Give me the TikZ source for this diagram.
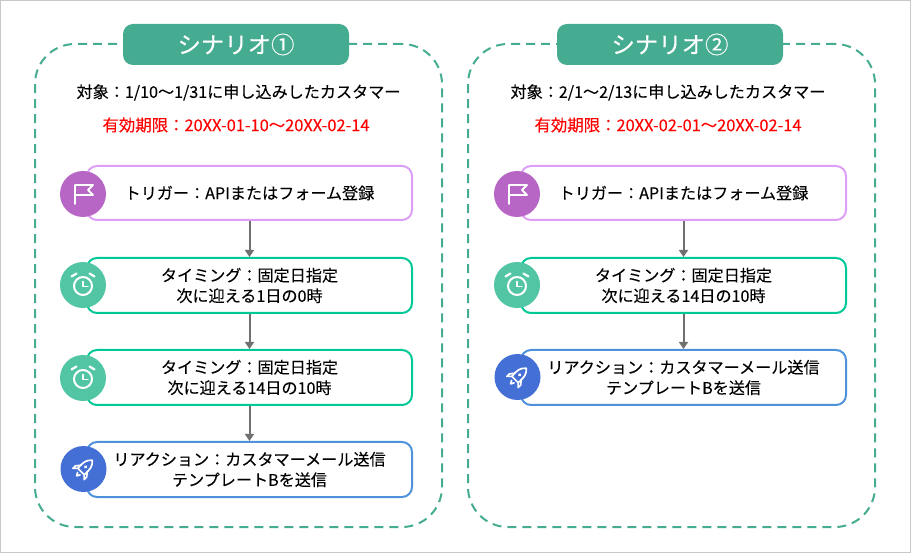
\documentclass[tikz,border=0pt]{standalone}
\usepackage{fontspec}
\setmainfont{Noto Sans CJK JP}[FakeBold=0.12]
\usetikzlibrary{arrows.meta}
\definecolor{teal1}{HTML}{46AC91}
\definecolor{purpleb}{HTML}{DD9FF5}
\definecolor{purplec}{HTML}{B866C6}
\definecolor{greenb}{HTML}{00C896}
\definecolor{greenc}{HTML}{52C6A4}
\definecolor{blueb}{HTML}{4F92DC}
\definecolor{bluec}{HTML}{4470D6}
\definecolor{arrowgray}{HTML}{707070}
\definecolor{framegray}{HTML}{C8C8C8}
\tikzset{
  x=1pt,y=-1pt,
  txt/.style={font=\fontsize{16.1}{20.5}\selectfont,align=center,inner sep=0pt,text=black},
  redtxt/.style={txt,text=red,font=\fontsize{16.4}{20.5}\selectfont},
  frame/.style={draw=teal1,line width=2pt,dash pattern=on 9pt off 6pt,rounded corners=40pt,minimum width=407pt,inner sep=0pt,fill=white},
  titlebox/.style={fill=teal1,rounded corners=10pt,minimum width=226pt,minimum height=41pt,inner sep=0pt,text=white,font=\fontsize{23.4}{26}\selectfont},
  box/.style={txt,fill=white,line width=2pt,rounded corners=10pt,minimum width=325pt,minimum height=55pt},
  pbox/.style={box,draw=purpleb},
  gbox/.style={box,draw=greenb},
  bbox/.style={box,draw=blueb},
  dot/.style={circle,minimum size=46pt,inner sep=0pt},
  conn/.style={draw=arrowgray,line width=2pt,-{Triangle[length=7pt,width=9pt]}},
  ico/.style={draw=white,line width=1.7pt,line cap=round,line join=round},
  pics/flag/.style={code={
    \draw[ico,line width=1.8pt] (-8,10)--(-8,-9)--(10,-9)--(5,-4)--(10,1)--(-8,1);
  }},
  pics/clock/.style={code={
    \draw[ico,line width=2pt] (0,1) circle (9);
    \draw[ico,line width=1.5pt] (0,-3.5)--(0,1.5)--(5,1.5);
    \draw[ico,line width=2.2pt] (-11.5,-8.5)--(-6.5,-11.5);
    \draw[ico,line width=2.2pt] (11.5,-8.5)--(6.5,-11.5);
  }},
  pics/rocket/.style={code={
    \begin{scope}[rotate=-45,scale=0.88]
      \draw[ico] (0,-14) .. controls (5,-10) and (6,-5) .. (5,4) -- (-5,4) .. controls (-6,-5) and (-5,-10) .. (0,-14) -- cycle;
      \fill[white] (0,-3.5) circle (2);
      \draw[ico] (-5,-1) -- (-9,4) -- (-9,8) -- (-5,4);
      \draw[ico] (5,-1) -- (9,4) -- (9,8) -- (5,4);
      \draw[ico] (-2,7.5) -- (0,11) -- (2,7.5);
    \end{scope}
  }}
}
\begin{document}
\begin{tikzpicture}
\useasboundingbox (0,0) rectangle (911,553);
\node[draw=framegray,line width=1pt,minimum width=910pt,minimum height=552pt,inner sep=0pt] (outer) at (455.5,276.5) {};
% scenario 1
\node[frame,minimum height=483pt] (fa) at (238.5,285.5) {};
\node[titlebox] (ta) at (236,44.5) {シナリオ①};
\node[txt] (la1) at (238.5,92.5) {対象：1/10～1/31に申し込みしたカスタマー};
\node[redtxt] (la2) at (236,125) {有効期限：20XX-01-10～20XX-02-14};
\node[pbox,minimum height=54pt] (a1) at (249.5,193) {トリガー：APIまたはフォーム登録};
\node[gbox] (a2) at (249.5,285.5) {タイミング：固定日指定\\次に迎える1日の0時};
\node[gbox] (a3) at (249.5,377.5) {タイミング：固定日指定\\次に迎える14日の10時};
\node[bbox] (a4) at (249.5,469.5) {リアクション：カスタマーメール送信\\テンプレートBを送信};
\node[dot,fill=purplec] (ia1) at (83,194) {};
\node[dot,fill=greenc] (ia2) at (83,285) {};
\node[dot,fill=greenc] (ia3) at (83,378) {};
\node[dot,fill=bluec] (ia4) at (83.5,469) {};
\pic at (ia1) {flag};
\pic at (ia2) {clock};
\pic at (ia3) {clock};
\pic at (ia4) {rocket};
\draw[conn] (a1) -- (a2);
\draw[conn] (a2) -- (a3);
\draw[conn] (a3) -- (a4);
% scenario 2
\node[frame,minimum height=483pt] (fb) at (671.5,285.5) {};
\node[titlebox] (tb) at (670,44.5) {シナリオ②};
\node[txt] (lb1) at (668,92.5) {対象：2/1～2/13に申し込みしたカスタマー};
\node[redtxt] (lb2) at (668,125) {有効期限：20XX-02-01～20XX-02-14};
\node[pbox,minimum height=54pt] (b1) at (683.5,193) {トリガー：APIまたはフォーム登録};
\node[gbox] (b2) at (683.5,285.5) {タイミング：固定日指定\\次に迎える14日の10時};
\node[bbox] (b3) at (683.5,377.5) {リアクション：カスタマーメール送信\\テンプレートBを送信};
\node[dot,fill=purplec] (ib1) at (517,194) {};
\node[dot,fill=greenc] (ib2) at (517,285) {};
\node[dot,fill=bluec] (ib3) at (517.5,377) {};
\pic at (ib1) {flag};
\pic at (ib2) {clock};
\pic at (ib3) {rocket};
\draw[conn] (b1) -- (b2);
\draw[conn] (b2) -- (b3);
\end{tikzpicture}
\end{document}
